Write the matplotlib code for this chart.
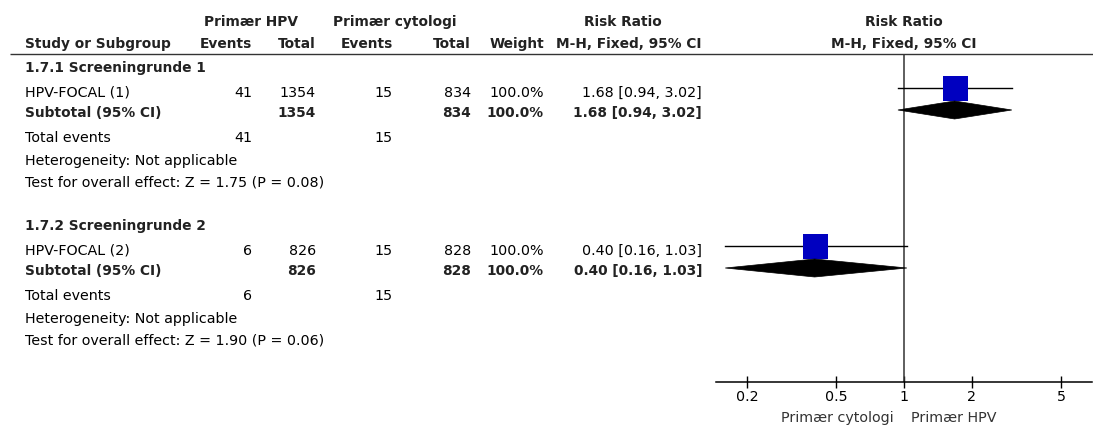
import matplotlib
matplotlib.use("Agg")
import matplotlib.pyplot as plt
from matplotlib.patches import Polygon

# ---------------- data ----------------
subgroups = ["1.7.1 Screeningrunde 1", "1.7.2 Screeningrunde 2"]
studies = ["HPV-FOCAL (1)", "HPV-FOCAL (2)"]
hpv_events = [41, 6]
hpv_total = [1354, 826]
cyt_events = [15, 15]
cyt_total = [834, 828]
weights = [100.0, 100.0]
rr = [1.68, 0.40]
rr_lo = [0.94, 0.16]
rr_hi = [3.02, 1.03]
z_vals = [1.75, 1.90]
p_vals = [0.08, 0.06]
ticks = [0.2, 0.5, 1, 2, 5]
tick_labels = ["0.2", "0.5", "1", "2", "5"]
left_label = "Primær cytologi"
right_label = "Primær HPV"

# ---------------- layout ----------------
W, H = 1093, 426
DPI = 100
FS = 10.3
FSB = 9.9
plt.rcParams['font.family'] = ['DejaVu Sans']

fig = plt.figure(figsize=(W / DPI, H / DPI), dpi=DPI)
tx = fig.add_axes([0, 0, 1, 1])
tx.set_xlim(0, W)
tx.set_ylim(H, 0)
tx.axis('off')

DARK = '#222222'

def t(x, y, s, ha='left', bold=False, color=None):
    tx.text(x, y, s, ha=ha, va='baseline',
            fontsize=FSB if bold else FS,
            fontweight='bold' if bold else 'normal',
            color=color if color else (DARK if bold else 'black'))

# headers
t(251, 26, "Primær HPV", ha='center', bold=True)
t(395, 26, "Primær cytologi", ha='center', bold=True)
t(623, 26, "Risk Ratio", ha='center', bold=True)
t(904, 26, "Risk Ratio", ha='center', bold=True)
t(25, 48, "Study or Subgroup", bold=True)
t(252, 48, "Events", ha='right', bold=True)
t(316, 48, "Total", ha='right', bold=True)
t(393, 48, "Events", ha='right', bold=True)
t(471, 48, "Total", ha='right', bold=True)
t(544, 48, "Weight", ha='right', bold=True)
t(702, 48, "M-H, Fixed, 95% CI", ha='right', bold=True)
t(904, 48, "M-H, Fixed, 95% CI", ha='center', bold=True)

tx.plot([10, W], [54, 54], color='#333333', lw=1.0, solid_capstyle='butt')

# forest axes
X_LEFT, X_RIGHT, Y_TOP, Y_AXIS = 716, 1092, 54, 382
X_ONE, PX_DEC = 904, 224.6
fx = fig.add_axes([X_LEFT / W, (H - Y_AXIS) / H, (X_RIGHT - X_LEFT) / W, (Y_AXIS - Y_TOP) / H])
fx.set_xscale('log')
fx.set_xlim(10 ** ((X_LEFT - X_ONE) / PX_DEC), 10 ** ((X_RIGHT - X_ONE) / PX_DEC))
fx.set_ylim(Y_AXIS, Y_TOP)
fx.patch.set_alpha(0)
for s in ['top', 'left', 'right']:
    fx.spines[s].set_visible(False)
fx.spines['bottom'].set_linewidth(1.1)
fx.set_yticks([])
fx.set_xticks(ticks)
fx.set_xticklabels(tick_labels)
fx.minorticks_off()
fx.tick_params(axis='x', direction='inout', length=9, width=1.0, pad=1.5, labelsize=FS)
fx.axvline(1, color='#333333', lw=1.1)

GROUP_OFF = 158
for g in range(2):
    o = g * GROUP_OFF
    t(25, 72 + o, subgroups[g], bold=True)
    # study row
    t(25, 97 + o, studies[g])
    t(252, 97 + o, f"{hpv_events[g]}", ha='right')
    t(316, 97 + o, f"{hpv_total[g]}", ha='right')
    t(393, 97 + o, f"{cyt_events[g]}", ha='right')
    t(471, 97 + o, f"{cyt_total[g]}", ha='right')
    t(544, 97 + o, f"{weights[g]:.1f}%", ha='right')
    t(702, 97 + o, f"{rr[g]:.2f} [{rr_lo[g]:.2f}, {rr_hi[g]:.2f}]", ha='right')
    # subtotal row
    t(25, 117 + o, "Subtotal (95% CI)", bold=True)
    t(316, 117 + o, f"{hpv_total[g]}", ha='right', bold=True)
    t(471, 117 + o, f"{cyt_total[g]}", ha='right', bold=True)
    t(544, 117 + o, f"{weights[g]:.1f}%", ha='right', bold=True)
    t(702, 117 + o, f"{rr[g]:.2f} [{rr_lo[g]:.2f}, {rr_hi[g]:.2f}]", ha='right', bold=True)
    # totals
    t(25, 142 + o, "Total events")
    t(252, 142 + o, f"{hpv_events[g]}", ha='right')
    t(393, 142 + o, f"{cyt_events[g]}", ha='right')
    t(25, 165 + o, "Heterogeneity: Not applicable")
    t(25, 187 + o, f"Test for overall effect: Z = {z_vals[g]:.2f} (P = {p_vals[g]:.2f})")

    # forest marks
    yc = 88 + o
    fx.plot([rr_lo[g], rr_hi[g]], [yc, yc], color='black', lw=1.0, zorder=2)
    fx.plot([rr[g]], [yc], marker='s', markersize=18, color='#0000C0', mew=0, zorder=3)
    yd = 110 + o
    dia = Polygon([(rr_lo[g], yd), (rr[g], yd - 9), (rr_hi[g], yd), (rr[g], yd + 9)],
                  closed=True, facecolor='black', edgecolor='black', lw=0.5, zorder=4)
    fx.add_patch(dia)

# bottom labels
t(894, 422, left_label, ha='right', color='#333333')
t(911, 422, right_label, ha='left', color='#333333')

fig.savefig("out.png", dpi=DPI)
